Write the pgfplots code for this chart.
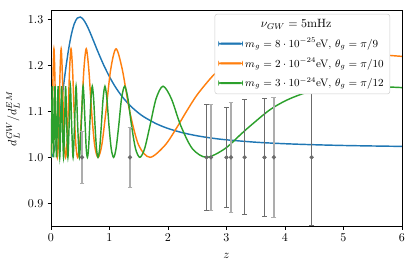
\documentclass[border=0pt]{standalone}
\usepackage{pgfplots}
\pgfplotsset{compat=1.18}
\definecolor{tabblue}{HTML}{1F77B4}
\definecolor{taborange}{HTML}{FF7F0E}
\definecolor{tabgreen}{HTML}{2CA02C}
\newcommand{\lf}{\fontsize{9}{10.8}\selectfont}
\begin{document}
\begin{tikzpicture}
\path[use as bounding box] (-42.5pt,-36.4pt) rectangle (301.7pt,188.6pt);
\begin{axis}[
  at={(0,0)}, anchor=south west,
  width=292.5pt, height=179.7pt, scale only axis,
  xmin=0, xmax=6, ymin=0.85, ymax=1.319,
  xtick={0,1,2,3,4,5,6},
  ytick={0.9,1.0,1.1,1.2,1.3},
  yticklabel style={/pgf/number format/.cd, fixed, fixed zerofill, precision=1},
  xtick pos=left, ytick pos=left,
  tick align=outside,
  major tick length=2.9pt,
  axis line style={line width=0.7pt},
  every tick/.style={black, line width=0.7pt},
  xlabel={$z$}, ylabel={$d_L^{GW}/d_L^{EM}$},
  xlabel style={yshift=-3pt},
  legend cell align=left,
  legend style={at={(0.966,0.985)}, anchor=north east, draw=black!20, fill=white,
    rounded corners=2pt, row sep=3.2pt, inner xsep=3pt, inner ysep=2.5pt},
]
\addlegendimage{empty legend}
\addlegendentry{\hspace*{13pt}$\nu_{GW} = 5$mHz}
\addlegendimage{legend image code/.code={\fill[tabblue] (0cm,-0.65pt) rectangle (0.7cm,0.65pt);}}
\addlegendentry{\lf $m_g = 8\cdot 10^{-25}$eV, $\theta_g = \pi/9$}
\addlegendimage{legend image code/.code={\fill[taborange] (0cm,-0.65pt) rectangle (0.7cm,0.65pt);}}
\addlegendentry{\lf $m_g = 2\cdot 10^{-24}$eV, $\theta_g = \pi/10$}
\addlegendimage{legend image code/.code={\fill[tabgreen] (0cm,-0.65pt) rectangle (0.7cm,0.65pt);}}
\addlegendentry{\lf $m_g = 3\cdot 10^{-24}$eV, $\theta_g = \pi/12$}

\addplot[forget plot, color=tabblue, line width=1.2pt, smooth] coordinates {
(0,1.0) (0.025,1.0034) (0.05,1.0129) (0.1,1.0458) (0.15,1.0908) (0.2,1.1412)
(0.25,1.1908) (0.3,1.2343) (0.35,1.2683) (0.4,1.2911) (0.45,1.3029) (0.5,1.3052)
(0.55,1.3003) (0.6,1.2902) (0.65,1.2769) (0.7,1.2618) (0.75,1.2461) (0.8,1.2304)
(0.9,1.2010) (1.0,1.1753) (1.1,1.1532) (1.2,1.1349) (1.3,1.1197) (1.4,1.1069)
(1.5,1.0961) (1.6,1.0871) (1.8,1.0731) (2.0,1.0628) (2.25,1.0535) (2.5,1.0468)
(2.75,1.0418) (3.0,1.0381) (3.5,1.0329) (4.0,1.0296) (4.5,1.0274) (5.0,1.0258)
(5.5,1.0247) (6.0,1.0238)
};

\addplot[forget plot, color=taborange, line width=1.2pt, smooth] coordinates {
(0,1.0) (0.0120,1.0263) (0.0244,1.0994) (0.0371,1.1909) (0.0502,1.2361)
(0.0638,1.1909) (0.0778,1.0994) (0.0922,1.0263) (0.1076,1.0)
(0.1235,1.0263) (0.1394,1.0994) (0.1559,1.1909) (0.1736,1.2361)
(0.1914,1.1909) (0.2102,1.0994) (0.2300,1.0263) (0.2499,1.0)
(0.2719,1.0263) (0.2940,1.0994) (0.3179,1.1909) (0.3424,1.2361)
(0.3688,1.1909) (0.3959,1.0994) (0.4255,1.0263) (0.4561,1.0)
(0.4893,1.0263) (0.5247,1.0994) (0.5623,1.1909) (0.6027,1.2361)
(0.6466,1.1909) (0.6945,1.0994) (0.7466,1.0263) (0.8040,1.0)
(0.8679,1.0263) (0.9390,1.0994) (1.0203,1.1909) (1.1119,1.2361)
(1.2192,1.1909) (1.3467,1.0994) (1.4992,1.0263) (1.6932,1.0)
(1.9492,1.0263) (2.15,1.0645) (2.3138,1.0994) (2.5,1.1363) (2.75,1.1750)
(2.8911,1.1909) (3.0,1.2020) (3.25,1.2193) (3.5,1.2293) (3.75,1.2352)
(4.0881,1.2361) (4.5,1.2342) (5.0,1.2296) (5.5,1.2245) (6.0,1.2196)
};

\addplot[forget plot, color=tabgreen, line width=1.2pt, smooth] coordinates {
(0,1.0) (0.0106,1.0690) (0.0216,1.1547) (0.0328,1.0690) (0.0443,1.0)
(0.0562,1.0690) (0.0684,1.1547) (0.0809,1.0690) (0.0938,1.0)
(0.1076,1.0690) (0.1217,1.1547) (0.1358,1.0690) (0.1499,1.0)
(0.1657,1.0690) (0.1815,1.1547) (0.1973,1.0690) (0.2146,1.0)
(0.2322,1.0690) (0.2499,1.1547) (0.2695,1.0690) (0.2891,1.0)
(0.3097,1.0690) (0.3315,1.1547) (0.3536,1.0690) (0.3778,1.0)
(0.4021,1.0690) (0.4288,1.1547) (0.4561,1.0690) (0.4856,1.0)
(0.5166,1.0690) (0.5490,1.1547) (0.5845,1.0690) (0.6026,1.0188) (0.6221,1.0)
(0.6417,1.0188) (0.6623,1.0690) (0.6837,1.1275) (0.7056,1.1547)
(0.7289,1.1275) (0.7525,1.0690) (0.7781,1.0188) (0.8039,1.0)
(0.8317,1.0188) (0.8603,1.0690) (0.8905,1.1275) (0.9225,1.1547)
(0.9557,1.1275) (0.9913,1.0690) (1.0301,1.0188) (1.0701,1.0)
(1.1117,1.0188) (1.1582,1.0690) (1.2055,1.1275) (1.2594,1.1547)
(1.3154,1.1275) (1.3775,1.0690) (1.4454,1.0188) (1.5190,1.0)
(1.6003,1.0188) (1.6926,1.0690) (1.7963,1.1275) (1.9155,1.1547)
(2.0579,1.1275) (2.2180,1.0690) (2.4173,1.0188) (2.6610,1.0)
(2.9732,1.0188) (3.25,1.0507) (3.4126,1.0690) (3.75,1.1041)
(4.0833,1.1275) (4.5,1.1458) (5.0,1.1537) (5.3216,1.1547) (5.5,1.1546) (6.0,1.1517)
};

\addplot[forget plot, only marks, mark=*, mark size=1.6pt, color=black!58,
  error bars/.cd, y dir=both, y explicit,
  error bar style={color=black!32, line width=1.1pt},
  error mark options={color=black!32, line width=0.8pt, mark size=2pt, rotate=90}]
  table[x=z, y=y, y error=e] {
z y e
0.53 1.0 0.056
1.35 1.0 0.066
2.735 1.0 0.116
3.077 1.0 0.120
3.81 1.0 0.130
};
\addplot[forget plot, only marks, mark=*, mark size=1.6pt, color=black!58,
  error bars/.cd, y dir=both, y explicit,
  error bar style={color=black!58, line width=0.8pt},
  error mark options={color=black!58, line width=0.8pt, mark size=2pt, rotate=90}]
  table[x=z, y=y, y error=e] {
z y e
2.66 1.0 0.115
3.0 1.0 0.109
3.31 1.0 0.125
3.65 1.0 0.128
4.456 1.0 0.149
};
\end{axis}
\end{tikzpicture}
\end{document}
